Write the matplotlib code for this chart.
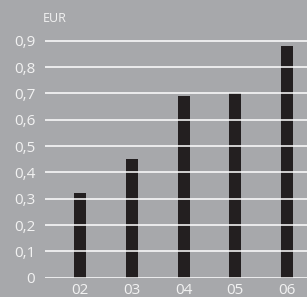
import matplotlib.pyplot as plt
import numpy as np

years = ['02', '03', '04', '05', '06']
values = [0.32, 0.45, 0.69, 0.70, 0.88]
yticks = [0, 0.1, 0.2, 0.3, 0.4, 0.5, 0.6, 0.7, 0.8, 0.9]
ytick_labels = ['0', '0,1', '0,2', '0,3', '0,4', '0,5', '0,6', '0,7', '0,8', '0,9']

plt.rcParams['font.family'] = ['Open Sans', 'DejaVu Sans']

bg = '#a7a8ab'
txt = '#f2f2f2'

fig = plt.figure(figsize=(3.07, 2.97), dpi=100)
fig.patch.set_facecolor(bg)
ax = fig.add_axes([45 / 307, (297 - 277.7) / 297, 262 / 307, 277.7 / 297])
ax.set_facecolor(bg)

x = np.arange(len(years))
ax.bar(x, values, width=0.232, color='#231f20', zorder=1)

# gridlines over the bars
for t in yticks:
    ax.axhline(t, color='white', lw=1.1, zorder=2)

ax.set_xlim(-0.676, 4.386)
ax.set_ylim(0, 1.055)
ax.set_yticks(yticks)
ax.set_yticklabels(ytick_labels)
ax.set_xticks(x)
ax.set_xticklabels(years)
ax.tick_params(axis='both', length=0, colors=txt, labelsize=11)
ax.tick_params(axis='y', pad=7)
ax.tick_params(axis='x', pad=4)
for s in ax.spines.values():
    s.set_visible(False)

fig.text(43 / 307, 1 - 18 / 297, 'EUR', color=txt, fontsize=9, va='center', ha='left')

fig.savefig('out.png', dpi=100, facecolor=bg)
